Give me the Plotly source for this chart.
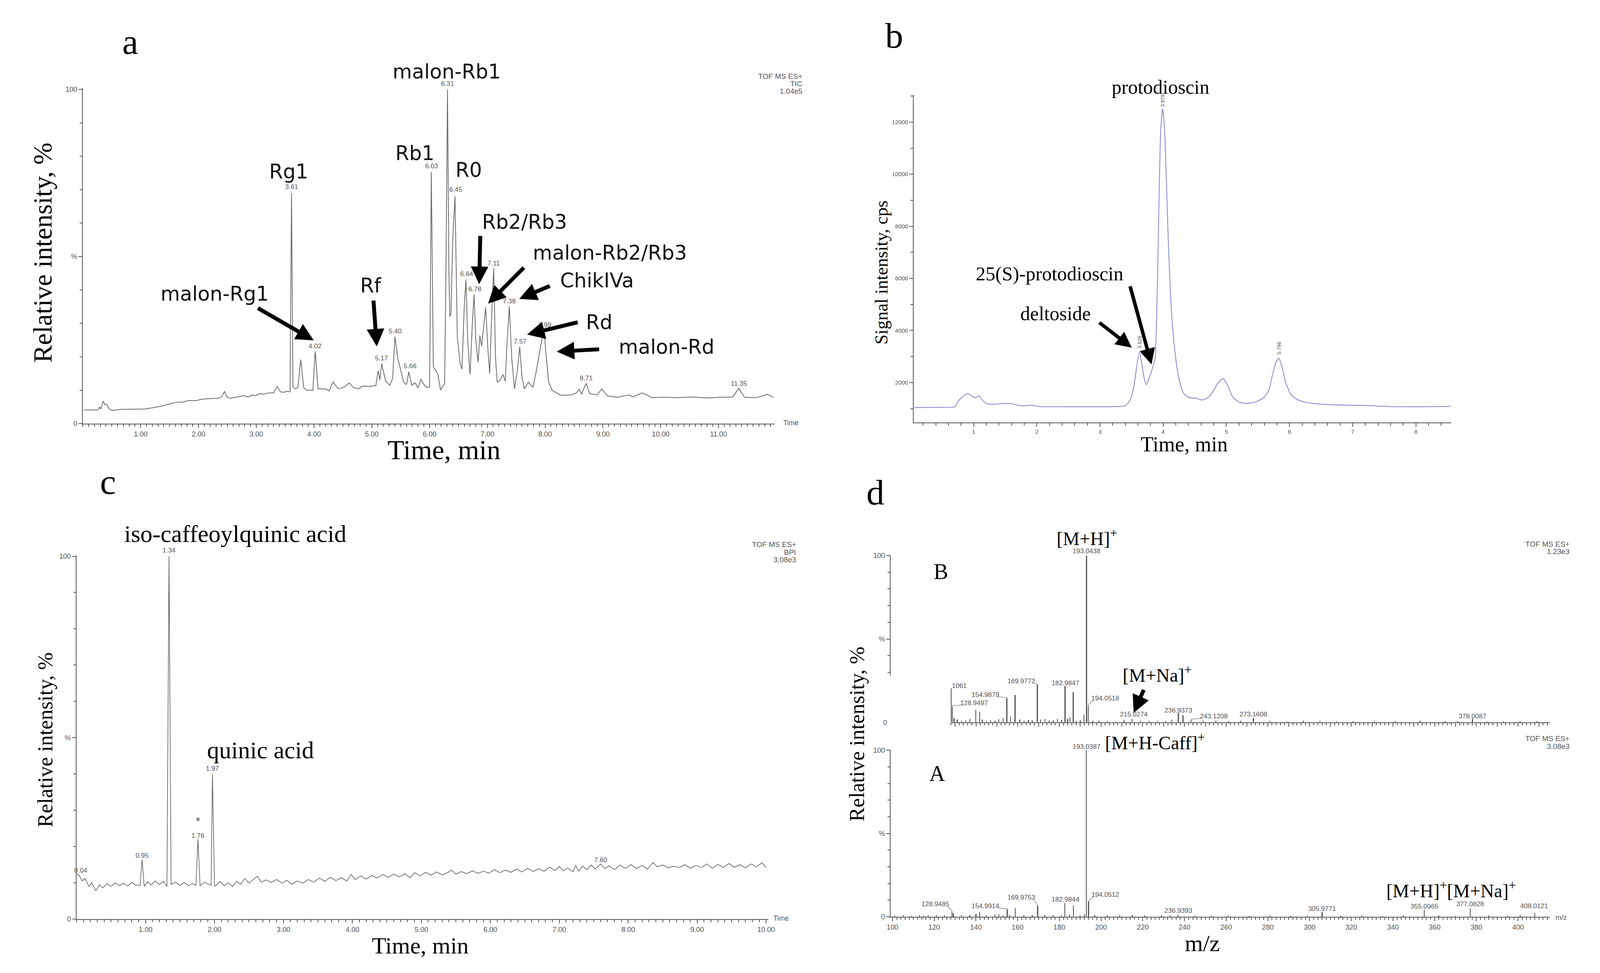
import plotly.graph_objects as go

W, H = 4284, 2492
SERIF = "Liberation Serif"
SANS = "DejaVu Sans"
TICK = "Liberation Sans"
GREY = "#555555"

# ---------------- panel a : TIC chromatogram ----------------
tic_time = [0.02, 0.26, 0.29, 0.31, 0.35, 0.38, 0.41, 0.46, 0.52, 0.67, 0.81, 1.07, 1.22, 1.37, 1.52, 1.61,
            1.74, 1.82, 1.97, 2.04, 2.19, 2.34, 2.40, 2.45, 2.49, 2.56, 2.67, 2.78, 2.86, 2.93, 2.99, 3.06,
            3.12, 3.21, 3.30, 3.36, 3.42, 3.48, 3.53, 3.585, 3.61, 3.635, 3.68, 3.72, 3.77, 3.82, 3.87, 3.98,
            4.02, 4.07, 4.20, 4.26, 4.33, 4.42, 4.53, 4.61, 4.68, 4.77, 4.83, 4.98, 5.07, 5.11, 5.14, 5.17,
            5.24, 5.31, 5.36, 5.40, 5.45, 5.50, 5.55, 5.60, 5.64, 5.69, 5.75, 5.80, 5.85, 5.90, 5.94, 6.00,
            6.03, 6.065, 6.10, 6.14, 6.19, 6.26, 6.28, 6.31, 6.335, 6.35, 6.37, 6.40, 6.44, 6.48, 6.53, 6.56,
            6.60, 6.63, 6.66, 6.70, 6.74, 6.77, 6.80, 6.84, 6.87, 6.90, 6.93, 6.97, 7.01, 7.04, 7.08, 7.11,
            7.14, 7.17, 7.22, 7.27, 7.31, 7.34, 7.38, 7.42, 7.47, 7.52, 7.56, 7.60, 7.64, 7.71, 7.79, 7.85,
            7.92, 7.98, 8.02, 8.06, 8.12, 8.27, 8.45, 8.54, 8.59, 8.63, 8.71, 8.77, 8.90, 8.98, 9.08, 9.25,
            9.45, 9.52, 9.68, 9.85, 10.05, 10.30, 10.55, 10.80, 11.05, 11.25, 11.35, 11.45, 11.65, 11.85, 11.95]
tic_int = [4.1, 4.1, 5.0, 4.4, 6.8, 5.7, 5.8, 4.3, 4.0, 4.3, 4.3, 4.4, 4.8, 5.3, 6.0, 6.4,
           6.5, 6.9, 6.9, 7.3, 7.5, 7.6, 8.0, 9.7, 8.0, 7.6, 8.0, 8.4, 8.0, 8.6, 8.4, 9.0,
           8.8, 9.2, 9.2, 11.2, 9.5, 9.4, 9.7, 9.5, 69.0, 11.0, 10.4, 10.8, 19.2, 10.8, 10.0, 10.0,
           21.7, 10.4, 10.4, 9.8, 12.5, 10.4, 11.0, 12.2, 10.8, 10.4, 11.2, 11.2, 11.4, 15.9, 13.1, 18.0,
           12.7, 11.5, 13.5, 26.0, 19.5, 16.0, 12.5, 11.7, 15.5, 11.5, 12.2, 10.7, 13.3, 11.8, 10.9, 11.0,
           75.3, 17.0, 16.1, 15.0, 10.1, 12.0, 40.0, 100.0, 45.0, 32.0, 33.0, 55.0, 68.0, 25.8, 18.0, 16.3,
           35.0, 43.1, 25.0, 14.7, 30.0, 38.7, 25.0, 18.4, 26.4, 23.2, 28.0, 34.8, 22.0, 15.0, 35.0, 46.5,
           20.0, 12.4, 13.0, 14.7, 12.7, 24.0, 35.1, 20.0, 10.4, 16.0, 23.0, 14.0, 10.4, 12.4, 10.9, 16.0,
           23.0, 28.0, 20.0, 12.5, 10.0, 8.5, 8.6, 9.2, 10.3, 8.8, 12.1, 9.0, 8.6, 10.4, 8.3, 7.9,
           8.6, 8.0, 9.2, 7.8, 7.9, 7.8, 8.0, 7.7, 7.9, 8.0, 10.6, 7.9, 7.8, 8.8, 7.9]
tic_peak_labels = ["3.61", "4.02", "5.17", "5.40", "5.66", "6.03", "6.31", "6.45", "6.64", "6.78",
                   "7.11", "7.38", "7.57", "7.99", "8.71", "11.35"]
tic_peak_y = [70.8, 23.2, 19.6, 27.6, 17.2, 77.0, 101.7, 70.0, 44.8, 40.2, 48.0, 36.6, 24.6, 29.5, 13.6, 12.0]
a_ticks = [1, 2, 3, 4, 5, 6, 7, 8, 9, 10, 11]

# ---------------- panel b : protodioscin chromatogram ----------------
b_time = [0.06, 0.40, 0.70, 0.76, 0.82, 0.90, 0.97, 1.03, 1.08, 1.13, 1.20, 1.30, 1.45, 1.60, 1.72, 1.80,
          1.92, 2.05, 2.40, 2.80, 3.20, 3.40, 3.48, 3.54, 3.58, 3.625, 3.66, 3.70, 3.735, 3.78, 3.83, 3.87,
          3.90, 3.93, 3.96, 3.99, 4.02, 4.05, 4.08, 4.12, 4.16, 4.20, 4.25, 4.32, 4.42, 4.52, 4.62, 4.72,
          4.80, 4.87, 4.95, 5.02, 5.10, 5.20, 5.32, 5.45, 5.58, 5.67, 5.73, 5.79, 5.83, 5.88, 5.94, 6.02,
          6.12, 6.25, 6.45, 6.80, 7.20, 7.60, 8.00, 8.30, 8.55]
b_cps = [1040, 1050, 1075, 1300, 1450, 1580, 1480, 1420, 1500, 1350, 1200, 1160, 1200, 1190, 1120, 1110,
         1130, 1080, 1075, 1070, 1080, 1110, 1350, 1900, 2600, 3170, 2750, 2150, 1920, 2200, 2550, 2900,
         4800, 8500, 11600, 12530, 11800, 9800, 7500, 5200, 3800, 2900, 2150, 1600, 1420, 1400, 1330, 1450,
         1700, 2000, 2150, 1900, 1450, 1250, 1200, 1250, 1400, 1700, 2300, 2800, 2940, 2600, 2000, 1550,
         1350, 1250, 1180, 1140, 1120, 1080, 1070, 1080, 1090]
b_peak_labels = ["3.626", "3.979", "5.796"]
b_peak_time = [3.625, 3.99, 5.83]
b_peak_y = [3550, 12820, 3330]
b_xticks = [1, 2, 3, 4, 5, 6, 7, 8]
b_yticks = [2000, 4000, 6000, 8000, 10000, 12000]

# ---------------- panel c : BPI chromatogram ----------------
c_time = [0.0, 0.04, 0.08, 0.12, 0.18, 0.22, 0.28, 0.33, 0.38, 0.44, 0.50, 0.56, 0.62, 0.68, 0.74, 0.80,
          0.86, 0.92, 0.95, 0.98, 1.03, 1.08, 1.14, 1.20, 1.26, 1.31, 1.34, 1.37, 1.43, 1.50, 1.56, 1.62,
          1.68, 1.73, 1.76, 1.79, 1.86, 1.92, 1.95, 1.97, 2.00, 2.08, 2.14, 2.20, 2.26, 2.32, 2.38, 2.44,
          2.50, 2.56, 2.62, 2.68, 2.75, 2.82, 2.90, 2.98, 3.05, 3.12, 3.20, 3.28, 3.36, 3.44, 3.52, 3.60,
          3.68, 3.76, 3.84, 3.92, 3.98, 4.04, 4.12, 4.20, 4.28, 4.36, 4.44, 4.52, 4.60, 4.68, 4.76, 4.84,
          4.90, 4.98, 5.06, 5.14, 5.22, 5.30, 5.38, 5.44, 5.50, 5.58, 5.66, 5.74, 5.82, 5.90, 5.98, 6.06,
          6.14, 6.22, 6.30, 6.38, 6.46, 6.54, 6.62, 6.70, 6.78, 6.86, 6.94, 7.00, 7.06, 7.12, 7.20, 7.24,
          7.28, 7.34, 7.40, 7.46, 7.52, 7.60, 7.66, 7.72, 7.80, 7.88, 7.96, 8.04, 8.12, 8.20, 8.28, 8.36,
          8.42, 8.50, 8.58, 8.66, 8.74, 8.82, 8.90, 8.98, 9.06, 9.14, 9.22, 9.30, 9.38, 9.46, 9.54, 9.62,
          9.70, 9.78, 9.86, 9.94, 10.0]
c_int = [12.5, 12.0, 10.5, 11.2, 9.0, 10.0, 7.8, 9.4, 8.6, 9.8, 9.0, 10.0, 9.2, 9.9, 9.1, 10.1,
         9.4, 9.2, 16.4, 9.0, 10.3, 9.4, 10.5, 9.5, 10.4, 9.0, 100.0, 9.5, 10.2, 9.3, 10.1, 9.2,
         9.8, 9.3, 22.0, 9.2, 10.2, 9.5, 9.3, 40.0, 9.0, 10.3, 9.2, 10.0, 9.0, 10.4, 9.6, 11.2,
         9.9, 10.8, 11.8, 10.2, 10.8, 10.1, 10.9, 9.9, 10.7, 9.6, 10.5, 9.9, 10.9, 10.2, 11.3, 10.4,
         11.5, 10.6, 11.4, 10.5, 12.3, 10.9, 11.9, 11.0, 12.0, 11.3, 12.3, 11.5, 12.4, 11.6, 12.5, 11.4,
         12.8, 11.9, 12.9, 12.1, 13.0, 12.2, 12.8, 13.5, 12.4, 13.1, 12.5, 13.3, 12.6, 13.2, 12.7, 13.6,
         12.8, 13.5, 12.9, 13.8, 13.0, 14.0, 13.1, 13.9, 13.2, 14.3, 13.4, 14.5, 13.3, 14.1, 13.0, 14.8,
         13.2, 14.6, 13.6, 14.9, 13.8, 15.2, 13.9, 14.7, 13.6, 14.9, 14.0, 15.0, 13.9, 14.8, 13.8, 15.6,
         14.4, 14.9, 14.1, 14.6, 14.2, 15.0, 14.0, 14.8, 14.2, 15.2, 14.0, 15.1, 14.2, 15.3, 14.3, 15.0,
         14.1, 15.2, 14.4, 15.5, 14.2]
c_peak_labels = ["0.04", "0.95", "1.34", "1.76", "1.97", "7.60"]
c_peak_time = [0.06, 0.95, 1.34, 1.76, 1.97, 7.60]
c_peak_y = [13.4, 17.5, 101.6, 23.0, 41.5, 16.3]
c_ticks = [1, 2, 3, 4, 5, 6, 7, 8, 9, 10]

# ---------------- panel d : mass spectra (B upper, A lower) ----------------
spec_b_mz = [128.1, 128.6, 129.5, 131.0, 133.2, 135.0, 137.1, 139.9, 141.8, 143.0, 145.1, 147.0, 149.2,
             151.0, 153.0, 154.8, 156.6, 158.7, 161.0, 163.0, 165.1, 167.0, 169.4, 171.0, 173.0, 175.0,
             177.1, 179.0, 181.0, 182.7, 184.0, 185.0, 186.6, 188.0, 190.0, 191.8, 193.0, 193.8, 196.0,
             199.0, 203.0, 207.0, 211.0, 214.8, 219.0, 223.1, 227.0, 231.0, 234.0, 237.0, 239.3, 243.1,
             249.0, 255.0, 261.0, 267.0, 273.0, 281.0, 289.0, 297.0, 305.0, 313.0, 321.0, 331.0, 341.0,
             353.0, 365.0, 371.0, 378.1, 385.0, 393.0, 401.0, 409.0]
spec_b_int = [20.4, 9.7, 2.5, 1.5, 0.8, 1.2, 2.0, 7.4, 6.2, 1.5, 0.9, 1.3, 1.0,
              1.8, 2.5, 14.5, 3.6, 16.5, 1.5, 1.0, 1.4, 1.2, 22.7, 1.6, 2.2, 1.0,
              1.2, 2.0, 1.4, 21.7, 2.0, 3.0, 18.1, 1.0, 1.2, 4.4, 100.0, 10.0, 1.0,
              0.8, 0.9, 0.7, 1.1, 2.0, 1.0, 0.8, 0.9, 1.0, 1.5, 5.5, 4.2, 1.5,
              0.8, 0.9, 0.7, 0.9, 2.5, 0.8, 0.7, 0.8, 0.9, 0.6, 0.7, 0.8, 0.7,
              0.8, 0.7, 0.6, 2.0, 0.7, 0.6, 0.7, 0.6]
spec_b_labels = ["1061", "128.9497", "154.9879", "169.9772", "182.9847", "193.0438", "194.0518",
                 "215.0274", "236.9373", "243.1208", "273.1608", "378.0087"]
spec_b_label_mz = [132.0, 139.1, 144.5, 161.8, 182.9, 193.1, 202.0, 215.7, 237.0, 254.1, 273.0, 378.1]
spec_b_label_y = [21.8, 11.4, 16.5, 24.6, 23.4, 102.8, 14.4, 4.6, 7.0, 3.5, 4.6, 3.5]

spec_a_mz = [101.0, 105.1, 109.0, 113.0, 115.0, 117.1, 121.0, 125.0, 128.5, 129.2, 133.0, 137.0, 140.0,
             141.8, 145.0, 149.1, 151.0, 153.1, 155.0, 156.2, 158.9, 163.0, 167.0, 169.6, 173.0, 177.0,
             181.0, 182.7, 184.9, 186.8, 190.0, 192.0, 193.0, 194.0, 197.0, 203.0, 209.0, 215.0, 221.0,
             229.0, 233.0, 237.0, 245.0, 253.0, 261.0, 271.0, 281.0, 291.0, 299.0, 306.0, 315.0, 325.0,
             335.0, 345.0, 355.0, 362.0, 370.0, 377.1, 386.0, 395.0, 401.0, 408.0]
spec_a_int = [0.6, 0.8, 0.5, 0.9, 0.7, 1.0, 0.8, 1.0, 3.2, 2.1, 0.9, 1.0, 1.7,
              2.7, 1.0, 1.3, 1.5, 0.9, 4.5, 1.2, 5.2, 0.9, 1.0, 6.7, 0.8, 0.9,
              1.0, 8.2, 1.4, 6.8, 0.9, 1.6, 100.0, 9.0, 0.8, 0.7, 0.6, 0.8, 0.6,
              0.7, 0.8, 1.2, 0.6, 0.5, 0.6, 0.5, 0.6, 0.5, 0.6, 2.7, 0.5, 0.6,
              0.5, 0.6, 4.2, 0.6, 0.5, 5.2, 0.6, 0.5, 0.6, 2.3]
spec_a_labels = ["128.9485", "154.9914", "169.9753", "182.9844", "193.0387", "194.0512", "236.9393",
                 "305.9771", "355.0965", "377.0828", "408.0121"]
spec_a_label_mz = [120.6, 144.5, 161.8, 182.9, 193.1, 202.0, 237.0, 306.0, 355.0, 377.1, 407.7]
spec_a_label_y = [7.7, 6.5, 11.6, 10.4, 102.1, 13.2, 3.7, 4.9, 6.3, 7.7, 6.5]
mz_ticks = [100, 120, 140, 160, 180, 200, 220, 240, 260, 280, 300, 320, 340, 360, 380, 400]

# which labels hang off their peak with a short leader: (label, side of label, peak m/z)
leaders_b = [("128.9497", -1, 128.6), ("154.9879", 1, 154.8), ("169.9772", 1, 169.4),
             ("194.0518", -1, 193.8), ("243.1208", -1, 243.1)]
leaders_a = [("128.9485", 1, 128.5), ("154.9914", 1, 155.0), ("169.9753", 1, 169.6), ("194.0512", -1, 194.0)]


def px(x0, x1):
    return [x0 / W, x1 / W]


def py(top, bottom):
    return [1 - bottom / H, 1 - top / H]


# plot areas (reference pixels) and value ranges
A_X, A_Y, A_XR, A_YR = px(213, 2077), py(220, 1085), [0, 11.97], [0, 100.3]
B_X, B_Y, B_XR, B_YR = px(2452, 3901), py(237, 1082), [0.05, 8.56], [467, 13042]
C_X, C_Y, C_XR, C_YR = px(196, 2060), py(1424, 2363), [0, 10.03], [0, 100.3]
DA_X, DA_Y, DA_XR, DA_YR = px(2390, 4167), py(1926, 2357), [99.1, 415.3], [0, 100.3]
DB_X, DB_Y, DB_XR, DB_YR = px(2552, 4167), py(1424, 1855), [127.9, 415.3], [0, 100.3]
DB_AXIS_Y = py(1424, 1735)


def axis(domain, rng, anchor, **kw):
    d = dict(domain=domain, range=rng, anchor=anchor, showline=True, linecolor=GREY, linewidth=2,
             showgrid=False, zeroline=False, ticks="outside", ticklen=9, tickwidth=2, tickcolor=GREY,
             tickfont=dict(family=TICK, size=18, color=GREY), fixedrange=True)
    d.update(kw)
    return d


def minor(step, length=6):
    return dict(ticks="outside", dtick=step, tick0=0, ticklen=length, tickwidth=1.5, tickcolor=GREY, showgrid=False)


def leader_xy(leaders, labels, label_mz, label_y, mz, inten):
    xs, ys = [], []
    for name, side, peak in leaders:
        i = labels.index(name)
        xs += [label_mz[i] + side * 5.8, peak, None]
        ys += [label_y[i] - 1.2, inten[mz.index(peak)] + 0.3, None]
    return xs, ys


fig = go.Figure()

fig.add_trace(go.Scatter(x=tic_time, y=tic_int, mode="lines", line=dict(color="#6a6a6a", width=2),
                         xaxis="x", yaxis="y", hoverinfo="skip"))
fig.add_trace(go.Scatter(x=b_time, y=b_cps, mode="lines",
                         line=dict(color="#8d8dd4", width=2.2, shape="spline", smoothing=0.6),
                         xaxis="x2", yaxis="y2", hoverinfo="skip"))
fig.add_trace(go.Scatter(x=c_time, y=c_int, mode="lines", line=dict(color="#5a5a5a", width=1.6),
                         xaxis="x3", yaxis="y3", hoverinfo="skip"))
fig.add_trace(go.Bar(x=spec_a_mz, y=spec_a_int, width=0.45, marker=dict(color="#505050", line_width=0),
                     xaxis="x4", yaxis="y4", hoverinfo="skip"))
fig.add_trace(go.Bar(x=spec_b_mz, y=spec_b_int, width=0.45, marker=dict(color="#505050", line_width=0),
                     xaxis="x5", yaxis="y5", hoverinfo="skip"))
lx, ly = leader_xy(leaders_a, spec_a_labels, spec_a_label_mz, spec_a_label_y, spec_a_mz, spec_a_int)
fig.add_trace(go.Scatter(x=lx, y=ly, mode="lines", line=dict(color="#777777", width=1.3),
                         xaxis="x4", yaxis="y4", hoverinfo="skip"))
lx, ly = leader_xy(leaders_b, spec_b_labels, spec_b_label_mz, spec_b_label_y, spec_b_mz, spec_b_int)
fig.add_trace(go.Scatter(x=lx, y=ly, mode="lines", line=dict(color="#777777", width=1.3),
                         xaxis="x5", yaxis="y5", hoverinfo="skip"))
# carrier for the short y axis of spectrum B
fig.add_trace(go.Scatter(x=[None], y=[None], xaxis="x4", yaxis="y6", hoverinfo="skip"))

small = dict(family=TICK, size=15, color=GREY)
fig.update_layout(
    autosize=True, margin=dict(l=0, r=0, t=0, b=0),
    paper_bgcolor="white", plot_bgcolor="white", showlegend=False,
    xaxis=axis(A_X, A_XR, "y", tickvals=a_ticks, ticktext=[f"{t:.2f}" for t in a_ticks], minor=minor(0.1)),
    yaxis=axis(A_Y, A_YR, "x", tickvals=[0, 50, 100], ticktext=["0", "%", "100"], minor=minor(10)),
    xaxis2=axis(B_X, B_XR, "y2", tickvals=b_xticks, ticktext=[str(t) for t in b_xticks], minor=minor(0.2), tickfont=small),
    yaxis2=axis(B_Y, B_YR, "x2", tickvals=b_yticks, ticktext=[str(t) for t in b_yticks], minor=minor(1000), tickfont=small),
    xaxis3=axis(C_X, C_XR, "y3", tickvals=c_ticks, ticktext=[f"{t:.2f}" for t in c_ticks], minor=minor(0.1)),
    yaxis3=axis(C_Y, C_YR, "x3", tickvals=[0, 50, 100], ticktext=["0", "%", "100"], minor=minor(10)),
    xaxis4=axis(DA_X, DA_XR, "y4", tickvals=mz_ticks, ticktext=[str(t) for t in mz_ticks], minor=minor(2)),
    yaxis4=axis(DA_Y, DA_YR, "x4", tickvals=[0, 50, 100], ticktext=["0", "%", "100"], minor=minor(10)),
    xaxis5=axis(DB_X, DB_XR, "y5", showticklabels=False, dtick=10, tick0=0, minor=minor(2)),
    yaxis5=dict(domain=DB_Y, range=DB_YR, anchor="x5", visible=False, fixedrange=True),
    yaxis6=axis(DB_AXIS_Y, [28, 100.3], "x4", tickvals=[50, 100], ticktext=["%", "100"], minor=minor(10)),
    bargap=0,
)


def to_data(xpx, ypx, xdom, xrng, ydom, yrng):
    xv = xrng[0] + (xpx / W - xdom[0]) / (xdom[1] - xdom[0]) * (xrng[1] - xrng[0])
    yv = yrng[0] + ((1 - ypx / H) - ydom[0]) / (ydom[1] - ydom[0]) * (yrng[1] - yrng[0])
    return xv, yv


def text(s, x, y, size, family=SERIF, color="black", xanchor="center", yanchor="middle", angle=0):
    fig.add_annotation(text=s, x=x / W, y=1 - y / H, xref="paper", yref="paper", showarrow=False,
                       font=dict(family=family, size=size, color=color), xanchor=xanchor, yanchor=yanchor,
                       textangle=angle)


def arrow(tail, head, refs, box, width=10):
    # head and tail given in reference pixels, placed in the panel's data units
    hx, hy = to_data(head[0], head[1], *box)
    tx, ty = to_data(tail[0], tail[1], *box)
    fig.add_annotation(text="", x=hx, y=hy, xref=refs[0], yref=refs[1], ax=tx, ay=ty,
                       axref=refs[0], ayref=refs[1], showarrow=True, arrowhead=2, arrowsize=0.9,
                       arrowwidth=width, arrowcolor="black")


def peak_labels(labels, xs, ys, xr, ydom, yrng, size=17, angle=0):
    # y goes through paper coords so labels above the axis top are still drawn
    for s, x, y in zip(labels, xs, ys):
        yp = ydom[0] + (y - yrng[0]) / (yrng[1] - yrng[0]) * (ydom[1] - ydom[0])
        fig.add_annotation(text=s, x=x, y=yp, xref=xr, yref="paper", showarrow=False, textangle=angle,
                           font=dict(family=TICK, size=size, color=GREY), xanchor="center", yanchor="middle")


# panel letters
text("a", 341, 100, 92)
text("b", 2399, 84, 92)
text("c", 281, 1235, 92)
text("d", 2349, 1262, 92)

# ---- panel a annotations ----
peak_labels(tic_peak_labels, [float(s) for s in tic_peak_labels], tic_peak_y, "x", A_Y, A_YR)
for s, x, y in [("malon-Rb1", 1193, 177), ("Rb1", 1108, 387), ("R0", 1253, 431), ("Rg1", 767, 435),
                ("Rb2/Rb3", 1403, 565), ("malon-Rb2/Rb3", 1634, 644), ("ChikIVa", 1599, 716),
                ("Rd", 1604, 823), ("malon-Rd", 1786, 887), ("malon-Rg1", 568, 750), ("Rf", 989, 729)]:
    text(s, x, y, 51, family=SANS, color="#111111")
box_a = (A_X, A_XR, A_Y, A_YR)
for tail, head in [((683, 786), (835, 870)), ((996, 766), (1005, 886)), ((1284, 599), (1281, 725)),
                   ((1403, 681), (1305, 775)), ((1473, 729), (1389, 763)), ((1548, 823), (1410, 855)),
                   ((1606, 893), (1490, 899))]:
    arrow(tail, head, ("x", "y"), box_a)
text("TOF MS ES+", 2154, 189, 19, family=TICK, color=GREY, xanchor="right")
text("TIC", 2154, 208, 19, family=TICK, color=GREY, xanchor="right")
text("1.04e5", 2154, 227, 19, family=TICK, color=GREY, xanchor="right")
text("Time", 2098, 1083, 18, family=TICK, color=GREY, xanchor="left")
text("Relative intensity, %", 105, 644, 68, angle=-90)
text("Time, min", 1186, 1153, 70)

# ---- panel b annotations ----
peak_labels(b_peak_labels, b_peak_time, b_peak_y, "x2", B_Y, B_YR, size=13, angle=-90)
text("protodioscin", 3117, 217, 50)
text("25(S)-protodioscin", 2818, 698, 50)
text("deltoside", 2835, 801, 50)
box_b = (B_X, B_XR, B_Y, B_YR)
arrow((2951, 823), (3040, 889), ("x2", "y2"), box_b, 9)
arrow((3035, 729), (3093, 932), ("x2", "y2"), box_b, 9)
text("Signal intensity, cps", 2366, 695, 46, angle=-90)
text("Time, min", 3181, 1138, 54)

# ---- panel c annotations ----
peak_labels(c_peak_labels, c_peak_time, c_peak_y, "x3", C_Y, C_YR)
peak_labels(["*"], [1.76], [27.0], "x3", C_Y, C_YR, size=30)
text("iso-caffeoylquinic acid", 624, 1369, 62)
text("quinic acid", 692, 1927, 62)
text("TOF MS ES+", 2137, 1397, 19, family=TICK, color=GREY, xanchor="right")
text("BPI", 2137, 1417, 19, family=TICK, color=GREY, xanchor="right")
text("3.08e3", 2137, 1436, 19, family=TICK, color=GREY, xanchor="right")
text("Time", 2072, 2361, 18, family=TICK, color=GREY, xanchor="left")
text("Relative intensity, %", 112, 1900, 54, angle=-90)
text("Time, min", 1122, 2432, 60)

# ---- panel d annotations ----
peak_labels(spec_b_labels, spec_b_label_mz, spec_b_label_y, "x5", DB_Y, DB_YR)
peak_labels(spec_a_labels, spec_a_label_mz, spec_a_label_y, "x4", DA_Y, DA_YR)
text("0", 2375, 1856, 18, family=TICK, color=GREY)
text("[M+H]<sup>+</sup>", 2919, 1378, 48)
text("B", 2525, 1467, 56)
text("[M+Na]<sup>+</sup>", 3108, 1731, 48)
arrow((3073, 1770), (3045, 1831), ("x5", "y5"), (DB_X, DB_XR, DB_Y, DB_YR), 10)
text("[M+H-Caff]<sup>+</sup>", 2966, 1905, 48, xanchor="left")
text("A", 2516, 1987, 56)
text("[M+H]<sup>+</sup>[M+Na]<sup>+</sup>", 3901, 2287, 48)
text("TOF MS ES+", 4222, 1396, 19, family=TICK, color=GREY, xanchor="right")
text("1.23e3", 4222, 1415, 19, family=TICK, color=GREY, xanchor="right")
text("TOF MS ES+", 4222, 1897, 19, family=TICK, color=GREY, xanchor="right")
text("3.08e3", 4222, 1917, 19, family=TICK, color=GREY, xanchor="right")
text("m/z", 4180, 2359, 18, family=TICK, color=GREY, xanchor="left")
text("Relative intensity, %", 2300, 1886, 54, angle=-90)
text("m/z", 3230, 2426, 60)

# let the figure fill whatever viewport the page is opened in
fill_page = ("document.documentElement.style.height='100%';document.body.style.height='100%';"
             "document.body.style.margin='0px';document.body.style.overflow='hidden';"
             "Plotly.Plots.resize(document.getElementById('{plot_id}'));")
fig.write_html("out.html", config={"responsive": True, "displayModeBar": False},
               default_width="100%", default_height="100%", post_script=fill_page)
